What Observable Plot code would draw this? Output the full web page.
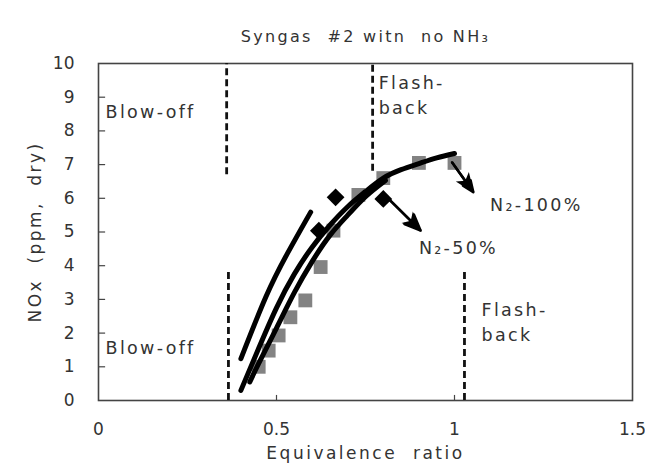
<!DOCTYPE html>
<html>
<head>
<meta charset="utf-8">
<script src="https://cdn.jsdelivr.net/npm/d3@7"></script>
<script src="https://cdn.jsdelivr.net/npm/@observablehq/plot@0.6"></script>
<style>
  html, body { margin: 0; padding: 0; background: #fff; }
  svg text { font-family: "DejaVu Sans", sans-serif; white-space: pre; }
  .ann text { letter-spacing: 2.3px; }
  .ttl text { letter-spacing: 2.3px; }
  .xl text { letter-spacing: 2.5px; }
  .yl text { letter-spacing: 2.4px; }
</style>
</head>
<body>
<div id="chart"></div>
<script>
// ---- data ----
const titleText = "Syngas  #2 witn  no NH₃";
const xLabel = "Equivalence  ratio";
const yLabel = "NOx  (ppm,  dry)";
const xTicks = [0, 0.5, 1, 1.5];
const xTickLabels = ["0", "0.5", "1", "1.5"];
const yTicks = [0, 1, 2, 3, 4, 5, 6, 7, 8, 9, 10];

// N2-100% measurements (gray squares)
const squareX = [0.45, 0.478, 0.506, 0.539, 0.581, 0.624, 0.66, 0.73, 0.80, 0.90, 1.00];
const squareY = [1.0, 1.48, 1.93, 2.47, 2.97, 3.96, 5.04, 6.1, 6.6, 7.05, 7.05];

// N2-50% measurements (black diamonds)
const diamondX = [0.619, 0.666, 0.80];
const diamondY = [5.04, 6.03, 5.98];

// trend lines
const fitAX = [0.40, 0.47, 0.53, 0.596];
const fitAY = [1.24, 3.07, 4.35, 5.59];
const fitBX = [0.425, 0.45, 0.50, 0.55, 0.60, 0.65, 0.70, 0.75, 0.806];
const fitBY = [0.55, 1.10, 2.15, 3.20, 4.12, 4.90, 5.50, 6.05, 6.53];
const fitCX = [0.40, 0.45, 0.50, 0.55, 0.60, 0.65, 0.70, 0.75, 0.80, 0.85, 0.90, 0.95, 1.00];
const fitCY = [0.30, 1.55, 2.75, 3.75, 4.55, 5.20, 5.75, 6.20, 6.60, 6.85, 7.03, 7.20, 7.33];

// stability limits (dashed)
const limitX  = [0.36, 0.77, 0.365, 1.028];
const limitY1 = [6.7, 6.8, 0, 0];
const limitY2 = [10, 10, 3.85, 3.85];

// annotations
const labelText = ["Blow-off", "Flash-", "back", "Blow-off", "Flash-", "back", "N₂-100%", "N₂-50%"];
const labelX = [0.02, 0.787, 0.787, 0.02, 1.076, 1.076, 1.10, 0.90];
const labelY = [8.55, 9.4, 8.68, 1.54, 2.67, 1.93, 5.79, 4.51];

// arrows
const arrowX1 = [0.993, 0.80];
const arrowY1 = [7.07, 6.14];
const arrowX2 = [1.053, 0.905];
const arrowY2 = [6.18, 5.04];

// ---- build tables ----
const squares = squareX.map((x, i) => ({x, y: squareY[i]}));
const diamonds = diamondX.map((x, i) => ({x, y: diamondY[i]}));
const fitA = fitAX.map((x, i) => ({x, y: fitAY[i]}));
const fitB = fitBX.map((x, i) => ({x, y: fitBY[i]}));
const fitC = fitCX.map((x, i) => ({x, y: fitCY[i]}));
const limits = limitX.map((x, i) => ({x, y1: limitY1[i], y2: limitY2[i]}));
const labels = labelText.map((t, i) => ({t, x: labelX[i], y: labelY[i]}));
const arrows = arrowX1.map((x1, i) => ({x1, y1: arrowY1[i], x2: arrowX2[i], y2: arrowY2[i]}));
const fmtX = d => xTickLabels[xTicks.indexOf(d)];

const chart = Plot.plot({
  width: 645,
  height: 473,
  marginLeft: 98,
  marginRight: 13,
  marginTop: 63,
  marginBottom: 73,
  style: {fontFamily: "DejaVu Sans, sans-serif", background: "#fff", color: "#333"},
  x: {domain: [0, 1.5]},
  y: {domain: [0, 10]},
  marks: [
    Plot.frame({stroke: "#444", strokeWidth: 1.6}),
    Plot.axisX({ticks: xTicks, tickFormat: fmtX, tickSize: 0, tickPadding: 22, fontSize: 17, label: null}),
    Plot.axisY({ticks: yTicks, tickSize: 0, tickPadding: 24, fontSize: 17, label: null}),
    Plot.ruleX(xTicks.slice(1, -1), {y1: 0, y2: 0.15, stroke: "#444", strokeWidth: 1.2}),
    Plot.ruleY(yTicks.slice(1, -1), {x1: 0, x2: 0.02, stroke: "#444", strokeWidth: 1.2}),
    Plot.ruleX(limits, {x: "x", y1: "y1", y2: "y2", stroke: "#111", strokeWidth: 2.8, strokeDasharray: "7,4"}),
    Plot.dot(squares, {x: "x", y: "y", symbol: "square", r: 7.8, fill: "#838383", stroke: "none"}),
    Plot.dot(diamonds, {x: "x", y: "y", symbol: "diamond2", r: 8, fill: "#000", stroke: "none"}),
    Plot.line(fitA, {x: "x", y: "y", stroke: "#000", strokeWidth: 5, curve: "natural", strokeLinecap: "round"}),
    Plot.line(fitB, {x: "x", y: "y", stroke: "#000", strokeWidth: 5, curve: "natural", strokeLinecap: "round"}),
    Plot.line(fitC, {x: "x", y: "y", stroke: "#000", strokeWidth: 5, curve: "natural", strokeLinecap: "round"}),
    Plot.arrow(arrows, {x1: "x1", y1: "y1", x2: "x2", y2: "y2", stroke: "#000", strokeWidth: 2.5, headLength: 15, headAngle: 45}),
    Plot.link(arrows, {x1: "x1", y1: "y1", x2: "x2", y2: "y2", stroke: "#000", strokeWidth: 2.5, className: "annarrow"}),
    Plot.text(labels, {x: "x", y: "y", text: "t", textAnchor: "start", fontSize: 17.5, fill: "#333", className: "ann"}),
    Plot.text([titleText], {frameAnchor: "top", dy: -33, fontSize: 16, fill: "#333", className: "ttl"}),
    Plot.text([xLabel], {frameAnchor: "bottom", dy: 58, fontSize: 17, fill: "#333", className: "xl"}),
    Plot.text([yLabel], {frameAnchor: "left", textAnchor: "middle", dx: -63, rotate: -90, fontSize: 17, fill: "#333", className: "yl"})
  ]
});

// filled triangular arrowheads, as in the reference
const ns = "http://www.w3.org/2000/svg";
const svgRoot = chart.tagName.toLowerCase() === "svg" ? chart : chart.querySelector("svg");
const defs = document.createElementNS(ns, "defs");
const marker = document.createElementNS(ns, "marker");
marker.setAttribute("id", "tri-head");
marker.setAttribute("markerUnits", "userSpaceOnUse");
marker.setAttribute("markerWidth", "20");
marker.setAttribute("markerHeight", "16");
marker.setAttribute("refX", "19");
marker.setAttribute("refY", "8");
marker.setAttribute("orient", "auto");
marker.setAttribute("viewBox", "0 0 20 16");
marker.setAttribute("overflow", "visible");
const tri = document.createElementNS(ns, "path");
tri.setAttribute("d", "M0,0 L20,8 L0,16 L5,8 Z");
tri.setAttribute("fill", "#000");
tri.setAttribute("stroke", "none");
marker.append(tri);
defs.append(marker);
svgRoot.insertBefore(defs, svgRoot.firstChild);
svgRoot.querySelectorAll(".annarrow path, .annarrow line").forEach(p => {
  p.setAttribute("marker-end", "url(#tri-head)");
  p.style.markerEnd = "url(#tri-head)";
});

document.getElementById("chart").append(chart);
</script>
</body>
</html>
